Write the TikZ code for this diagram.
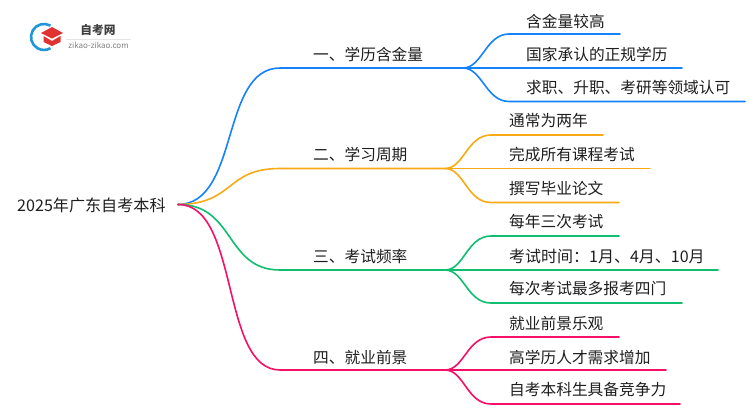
\documentclass[tikz,border=0pt]{standalone}
\usepackage{fontspec}
\setmainfont{Noto Sans CJK SC}
\usetikzlibrary{positioning}
\definecolor{bluebr}{RGB}{20,130,250}
\definecolor{orangebr}{RGB}{247,170,20}
\definecolor{greenbr}{RGB}{15,190,110}
\definecolor{pinkbr}{RGB}{245,15,105}
\definecolor{inkc}{RGB}{30,30,30}
\definecolor{logored}{RGB}{225,50,50}
\definecolor{logoblue}{RGB}{30,150,215}
\tikzset{
  lab/.style={inner sep=0pt,anchor=west,font=\fontsize{15.7}{15.7}\selectfont,text=inkc},
  br/.style={line width=1.6pt,line cap=round},
}
\begin{document}
\begin{tikzpicture}[x=1pt,y=-1pt]
\useasboundingbox (0,0) rectangle (750,410);

\coordinate (root) at (178,204.5);

% blue
\coordinate (b1) at (280,68);
\coordinate (b2) at (463,68);
\coordinate (b3) at (509,34);
\coordinate (b4) at (620,34);
\coordinate (b5) at (682,68);
\coordinate (b6) at (509,101.5);
\coordinate (b7) at (745,101.5);
\draw [br,bluebr] (root) .. controls (240,204) and (220,68) .. (b1) -- (b2);
\draw [br,bluebr] (b2) .. controls (482,68) and (486,34) .. (b3) -- (b4);
\draw [br,bluebr] (b2) -- (b5);
\draw [br,bluebr] (b2) .. controls (482,68) and (486,101.5) .. (b6) -- (b7);

% orange
\coordinate (o1) at (280,168.5);
\coordinate (o2) at (445,168.5);
\coordinate (o3) at (491,135);
\coordinate (o4) at (603,135);
\coordinate (o5) at (650,168.5);
\coordinate (o6) at (491,202.5);
\coordinate (o7) at (619,202.5);
\draw [br,orangebr] (root) .. controls (235,204) and (225,168.5) .. (o1) -- (o2);
\draw [br,orangebr] (o2) .. controls (464,168.5) and (467,135) .. (o3) -- (o4);
\draw [br,orangebr] (o2) -- (o5);
\draw [br,orangebr] (o2) .. controls (464,168.5) and (467,202.5) .. (o6) -- (o7);

% green
\coordinate (g1) at (280,270);
\coordinate (g2) at (445,270);
\coordinate (g3) at (491,236);
\coordinate (g4) at (619,236);
\coordinate (g5) at (718,270);
\coordinate (g6) at (491,303);
\coordinate (g7) at (682,303);
\draw [br,greenbr] (root) .. controls (235,204) and (225,270) .. (g1) -- (g2);
\draw [br,greenbr] (g2) .. controls (464,270) and (467,236) .. (g3) -- (g4);
\draw [br,greenbr] (g2) -- (g5);
\draw [br,greenbr] (g2) .. controls (464,270) and (467,303) .. (g6) -- (g7);

% pink
\coordinate (p1) at (280,370);
\coordinate (p2) at (445,370);
\coordinate (p3) at (491,337);
\coordinate (p4) at (619,337);
\coordinate (p5) at (666,370);
\coordinate (p6) at (491,404);
\coordinate (p7) at (680,404);
\draw [br,pinkbr] (root) .. controls (240,204) and (220,370) .. (p1) -- (p2);
\draw [br,pinkbr] (p2) .. controls (464,370) and (467,337) .. (p3) -- (p4);
\draw [br,pinkbr] (p2) -- (p5);
\draw [br,pinkbr] (p2) .. controls (464,370) and (467,404) .. (p6) -- (p7);

% labels
\node [lab,font=\fontsize{16.1}{16.1}\selectfont] (rootlab) at (17,205) {2025年广东自考本科};
\node [lab] (blab) at (313,54) {一、学历含金量};
\node [lab] (olab) at (313,155) {二、学习周期};
\node [lab] (glab) at (313,256) {三、考试频率};
\node [lab] (plab) at (313,357) {四、就业前景};

\node [lab] (b1lab) at (526,21) {含金量较高};
\node [lab] (b2lab) at (526,54) {国家承认的正规学历};
\node [lab] (b3lab) at (526,88) {求职、升职、考研等领域认可};

\node [lab] (o1lab) at (509,121) {通常为两年};
\node [lab] (o2lab) at (509,155) {完成所有课程考试};
\node [lab] (o3lab) at (509,188) {撰写毕业论文};

\node [lab] (g1lab) at (509,222) {每年三次考试};
\node [lab,font=\fontsize{16}{16}\selectfont] (g2lab) at (509,256) {考试时间：1月、4月、10月};
\node [lab] (g3lab) at (509,289) {每次考试最多报考四门};

\node [lab] (p1lab) at (509,323) {就业前景乐观};
\node [lab] (p2lab) at (509,357) {高学历人才需求增加};
\node [lab] (p3lab) at (509,390) {自考本科生具备竞争力};

% logo
\draw [line width=2.6pt,color=logoblue] (50.5,25.7) arc (-60:-300:13);
\fill [logored] (43.5,36) -- (52,41) -- (60.5,36) -- (60.5,42) -- (52,46) -- (43.5,42) -- cycle;
\fill [logored] (41,33) -- (52,27) -- (63,33) -- (52,38.5) -- cycle;
\node [inner sep=0pt,font=\fontsize{11.7}{11.7}\selectfont\bfseries,text=inkc!85] (logotxt) at (98,30.5) {自考网};
\draw [gray!20,line width=0.5pt] (66,39) -- (131,39);
\node [inner sep=0pt,font=\fontsize{8}{8}\selectfont,text=gray] (logourl) at (98.5,45) {zikao-zikao.com};
\end{tikzpicture}
\end{document}
